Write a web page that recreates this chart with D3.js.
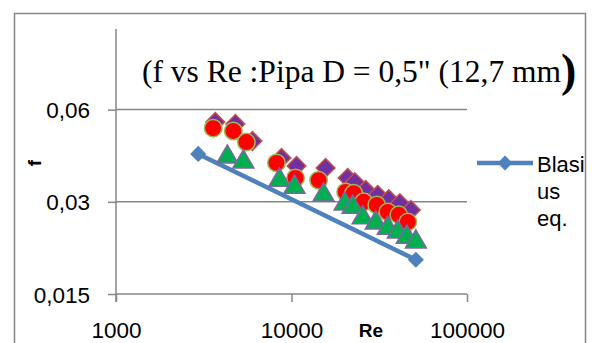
<!DOCTYPE html>
<html>
<head>
<meta charset="utf-8">
<script src="https://cdn.jsdelivr.net/npm/d3@7"></script>
<style>
  html, body { margin: 0; padding: 0; background: #fff; }
  svg { display: block; }
  text { fill: #000; }
</style>
</head>
<body>
<div id="chart"></div>
<script>
/* ───── data ───── */
const xTicks = [1000, 10000, 100000];
const yTicks = [0.015, 0.03, 0.06];
const yTickLabels = ['0,015', '0,03', '0,06'];

// diamonds (purple)
const reDiamond = [3680, 4790, 5990, 8770, 10680, 15640, 20890, 22910, 26480, 30990, 35840, 41410, 47860];
const fDiamond  = [0.0547, 0.0539, 0.0474, 0.0417, 0.0393, 0.0387, 0.0359, 0.0348, 0.0328, 0.0316, 0.0306, 0.0297, 0.0282];

// circles (red)
const reCircle = [3580, 4660, 5530, 8210, 10540, 14270, 20350, 22610, 25790, 30600, 35380, 40880, 46020];
const fCircle  = [0.0522, 0.0511, 0.0470, 0.0402, 0.0359, 0.0353, 0.0323, 0.0320, 0.0300, 0.0293, 0.0278, 0.0272, 0.0258];

// triangles (green)
const reTriangle = [4310, 5320, 8540, 10400, 15230, 20090, 22320, 25440, 30200, 35380, 40340, 45400, 51120];
const fTriangle  = [0.0420, 0.0405, 0.0353, 0.0335, 0.0316, 0.0295, 0.0288, 0.0266, 0.0256, 0.0246, 0.0239, 0.0230, 0.0222];

// Blasius eq. line
const reBlasius = [2940, 51120];
const fBlasius  = [0.0430, 0.0194];

const zip = (xs, ys) => xs.map((x, i) => ({ re: x, f: ys[i] }));

/* ───── layout ───── */
const W = 592, H = 343;
const plot = { left: 116, right: 467, top: 29, bottom: 294 };
const gray = '#868686';
const sans = '"Liberation Sans", Arial, sans-serif';
const serif = '"Liberation Serif", "Times New Roman", serif';

const svg = d3.select('#chart').append('svg')
  .attr('width', W).attr('height', H)
  .style('font-family', sans);

// outer chart border
svg.append('rect')
  .attr('x', 14.5).attr('y', 13.5)
  .attr('width', 571).attr('height', 340)
  .attr('fill', 'none').attr('stroke', gray).attr('stroke-width', 1.5);

const x = d3.scaleLog().domain([1000, 100000]).range([plot.left, plot.right]);
const y = d3.scaleLog().base(2).domain([0.015, 0.11]).range([plot.bottom, plot.top]);

// gridlines
svg.append('g')
  .selectAll('line')
  .data(yTicks.slice(1))
  .join('line')
    .attr('x1', plot.left).attr('x2', plot.right)
    .attr('y1', d => y(d)).attr('y2', d => y(d))
    .attr('stroke', gray).attr('stroke-width', 1.5);

// y axis
const yAxis = svg.append('g')
  .attr('transform', `translate(${plot.left},0)`)
  .call(d3.axisLeft(y).tickValues(yTicks).tickSize(8).tickPadding(18)
    .tickFormat((d, i) => yTickLabels[i]));
yAxis.select('.domain').attr('d', `M0,${plot.top}V${plot.bottom + 8}`);

// x axis
const xAxis = svg.append('g')
  .attr('transform', `translate(0,${plot.bottom})`)
  .call(d3.axisBottom(x).tickValues(xTicks).tickSize(8).tickPadding(20)
    .tickFormat(d3.format('d')));
xAxis.select('.domain').attr('d', `M${plot.left},0H${plot.right}`);

svg.selectAll('.domain, .tick line').attr('stroke', gray).attr('stroke-width', 1.5);
svg.selectAll('.tick text')
  .style('font-family', sans)
  .style('font-size', '22.5px')
  .attr('fill', '#000');
yAxis.selectAll('.tick text').attr('dy', '0.36em');
xAxis.selectAll('.tick text').attr('dy', '0.71em');

// axis titles
svg.append('text')
  .attr('x', 371).attr('y', 337)
  .attr('text-anchor', 'middle')
  .style('font-size', '19px').style('font-weight', 'bold')
  .text('Re');

svg.append('text')
  .attr('transform', 'translate(41,163) rotate(-90)')
  .attr('text-anchor', 'middle')
  .style('font-size', '19px').style('font-weight', 'bold')
  .text('f');

// chart title
const title = svg.append('text')
  .attr('x', 142).attr('y', 82)
  .style('font-family', serif)
  .style('font-size', '31.5px');
title.append('tspan').text('(f vs Re :Pipa D = 0,5" (12,7 mm');
title.append('tspan')
  .style('font-size', '46px').style('font-weight', 'bold').attr('dy', 4)
  .text(')');

/* ───── series ───── */
const line = d3.line().x(d => x(d.re)).y(d => y(d.f));
const blasius = zip(reBlasius, fBlasius);

svg.append('path')
  .datum(blasius)
  .attr('d', line)
  .attr('fill', 'none')
  .attr('stroke', '#4F81BD')
  .attr('stroke-width', 4.5);

svg.append('g')
  .selectAll('path')
  .data(blasius)
  .join('path')
    .attr('transform', d => `translate(${x(d.re)},${y(d.f)}) rotate(45)`)
    .attr('d', d3.symbol(d3.symbolSquare, 130))
    .attr('fill', '#4F81BD');

function drawSeries(data, type, size, fill, stroke, rot) {
  svg.append('g')
    .selectAll('path')
    .data(data)
    .join('path')
      .attr('transform', d => `translate(${x(d.re)},${y(d.f)})${rot ? ' rotate(45)' : ''}`)
      .attr('d', d3.symbol(type, size))
      .attr('fill', fill)
      .attr('stroke', stroke)
      .attr('stroke-width', 1.5);
}

drawSeries(zip(reDiamond, fDiamond), d3.symbolSquare, 175, '#7030A0', '#C0504D', true);
drawSeries(zip(reCircle, fCircle), d3.symbolCircle, 240, '#FF0000', '#9BBB59', false);
drawSeries(zip(reTriangle, fTriangle), d3.symbolTriangle, 190, '#00B050', '#8064A2', false);

/* ───── legend ───── */
const lg = svg.append('g').attr('transform', 'translate(477,163)');
lg.append('line')
  .attr('x1', 0).attr('x2', 56)
  .attr('stroke', '#4F81BD').attr('stroke-width', 4.5);
lg.append('path')
  .attr('transform', 'translate(28,0) rotate(45)')
  .attr('d', d3.symbol(d3.symbolSquare, 110))
  .attr('fill', '#4F81BD');
const lt = svg.append('text')
  .attr('x', 537).attr('y', 172)
  .style('font-size', '22px');
['Blasi', 'us', 'eq.'].forEach((s, i) => {
  lt.append('tspan').attr('x', 537).attr('dy', i ? 27 : 0).text(s);
});
</script>
</body>
</html>
